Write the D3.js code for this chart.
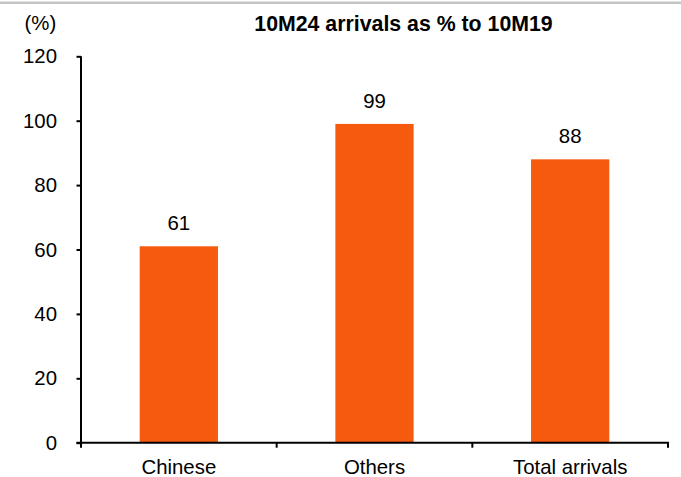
<!DOCTYPE html>
<html>
<head>
<meta charset="utf-8">
<script src="https://cdn.jsdelivr.net/npm/d3@7"></script>
<style>
  html, body { margin: 0; padding: 0; background: #fff; }
  svg { display: block; font-family: "Liberation Sans", Arial, sans-serif; }
</style>
</head>
<body>
<svg id="chart" width="681" height="477"></svg>
<script>
// Arrivals in the first ten months of 2024 relative to the same period of 2019
const categories = ["Chinese", "Others", "Total arrivals"];
const values = [61, 99, 88];
const yTicks = [0, 20, 40, 60, 80, 100, 120];
const title = "10M24 arrivals as % to 10M19";
const unitLabel = "(%)";

const svg = d3.select("#chart");
const W = 681, H = 477;
const plot = { left: 81, right: 668, top: 56.3, bottom: 442.7 };
const labelSize = 20.4;

const x = d3.scaleBand()
  .domain(categories)
  .range([plot.left, plot.right])
  .paddingInner(0.6)
  .paddingOuter(0.3);

const y = d3.scaleLinear().domain([0, 120]).range([plot.bottom, plot.top]);

// thin rule across the top of the panel
svg.append("line")
  .attr("x1", 0).attr("x2", W)
  .attr("y1", 2.8).attr("y2", 2.8)
  .attr("stroke", "#c4c4c4").attr("stroke-width", 2.5);

// bars
svg.append("g").selectAll("rect")
  .data(values)
  .join("rect")
  .attr("x", (d, i) => x(categories[i]))
  .attr("width", x.bandwidth())
  .attr("y", d => y(d))
  .attr("height", d => y(0) - y(d))
  .attr("fill", "#F55A0F");

// value labels
svg.append("g").selectAll("text")
  .data(values)
  .join("text")
  .attr("x", (d, i) => x(categories[i]) + x.bandwidth() / 2)
  .attr("y", d => y(d) - 16)
  .attr("text-anchor", "middle")
  .attr("font-size", labelSize)
  .attr("fill", "#000")
  .text(d => d);

// y axis
const yAxis = d3.axisLeft(y).tickValues(yTicks).tickSize(4.5).tickPadding(19.5);
const gy = svg.append("g").attr("transform", `translate(${plot.left},0)`).call(yAxis);
gy.select(".domain").attr("stroke", "#000").attr("stroke-width", 2)
  .attr("d", `M0,${plot.top}V${plot.bottom}`);
gy.selectAll(".tick line").attr("stroke", "#000").attr("stroke-width", 2);
gy.selectAll(".tick text").attr("font-size", labelSize).attr("fill", "#000")
  .attr("font-family", "Liberation Sans, Arial, sans-serif");

// x axis with ticks at category boundaries
const gx = svg.append("g").attr("transform", `translate(0,${plot.bottom})`);
gx.append("line")
  .attr("x1", plot.left - 4.5).attr("x2", plot.right + 1)
  .attr("stroke", "#000").attr("stroke-width", 2);
const boundaries = categories.map(c => x(c) - x.step() * x.paddingInner() / 2)
  .concat([plot.right]);
gx.selectAll("line.tick")
  .data(boundaries)
  .join("line")
  .attr("class", "tick")
  .attr("x1", d => d).attr("x2", d => d)
  .attr("y1", 0).attr("y2", 5)
  .attr("stroke", "#000").attr("stroke-width", 2);
gx.selectAll("text")
  .data(categories)
  .join("text")
  .attr("x", d => x(d) + x.bandwidth() / 2)
  .attr("y", 31)
  .attr("text-anchor", "middle")
  .attr("font-size", labelSize)
  .attr("fill", "#000")
  .text(d => d);

// title and unit
svg.append("text")
  .attr("x", 403.5).attr("y", 31)
  .attr("text-anchor", "middle")
  .attr("font-size", 21.3)
  .attr("font-weight", "bold")
  .text(title);
svg.append("text")
  .attr("x", 24.5).attr("y", 30)
  .attr("font-size", labelSize)
  .text(unitLabel);
</script>
</body>
</html>
